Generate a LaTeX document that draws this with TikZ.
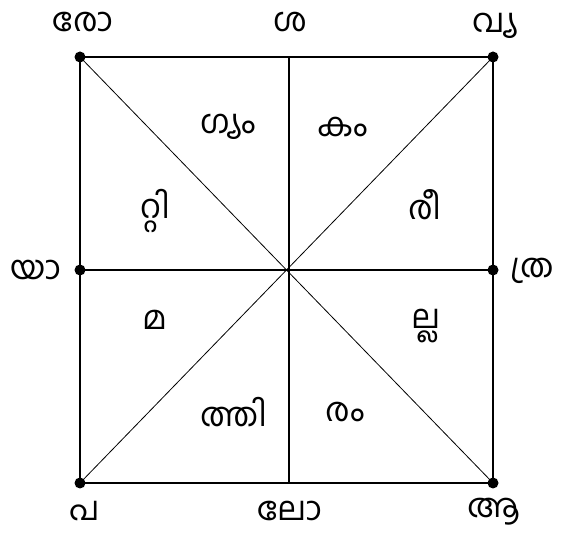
\documentclass[tikz,border=0pt]{standalone}
\usepackage{fontspec}
\newfontfamily\malfont[Script=Malayalam]{Hind Kochi}
\begin{document}
\begin{tikzpicture}[x=1pt,y=-1pt,
  lbl/.style={font=\malfont\fontsize{33}{36}\selectfont, inner sep=0pt},
  dotpt/.style={circle, fill=black, inner sep=0pt, minimum size=11pt},
  edge/.style={draw=black, line width=1.3pt},
  diag/.style={draw=black, line width=0.8pt}]
\useasboundingbox (0,0) rectangle (574,534);
\node[dotpt] (tl) at (80,57) {};
\node[dotpt] (tr) at (493,57) {};
\node[dotpt] (bl) at (80,483) {};
\node[dotpt] (br) at (493,483) {};
\node[dotpt] (ml) at (80,270) {};
\node[dotpt] (mr) at (493,270) {};
\coordinate (tm) at (289,57);
\coordinate (bm) at (289,483);
\coordinate (c) at (289,270);
\draw[edge] (tl.center) -- (tr.center) -- (br.center) -- (bl.center) -- cycle;
\draw[edge] (tm) -- (bm);
\draw[edge] (ml.center) -- (mr.center);
\draw[diag] (tl.center) -- (br.center);
\draw[diag] (tr.center) -- (bl.center);
% outer labels
\node[lbl] (l1) at (83,22) {രോ};
\node[lbl] (l2) at (290,22) {ശ};
\node[lbl] (l3) at (495,26) {വ്യ};
\node[lbl] (l4) at (36,270) {യാ};
\node[lbl] (l5) at (532,271) {ത്ര};
\node[lbl] (l6) at (85,511) {പ};
\node[lbl] (l7) at (290,511) {ലോ};
\node[lbl] (l8) at (494,512) {ആ};
% inner labels
\node[lbl] (i1) at (228,127) {ഗ്യം};
\node[lbl] (i2) at (343,127) {കം};
\node[lbl] (i3) at (155,211) {റ്റി};
\node[lbl] (i4) at (425,205) {രീ};
\node[lbl] (i5) at (155,320) {മ};
\node[lbl] (i6) at (426,326) {ല്ല};
\node[lbl] (i7) at (234,412) {ത്തി};
\node[lbl] (i8) at (345,412) {രം};
\end{tikzpicture}
\end{document}
